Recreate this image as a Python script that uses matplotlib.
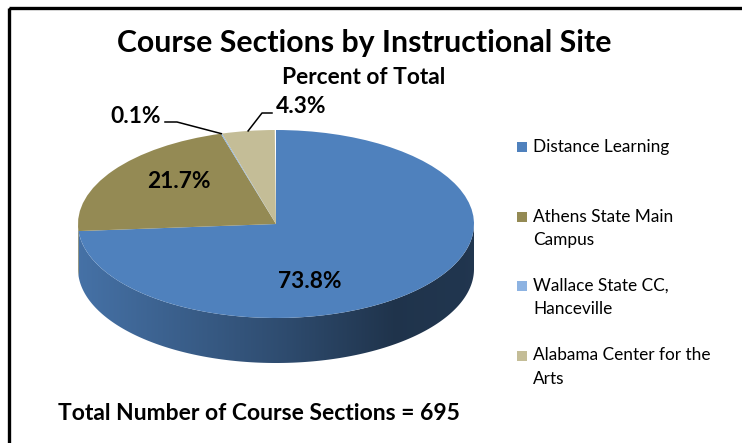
import numpy as np
import matplotlib
matplotlib.use('Agg')
import matplotlib.pyplot as plt
from matplotlib.patches import Wedge, Rectangle, Polygon
from matplotlib.transforms import Affine2D

# data
sites = ['Distance Learning', 'Athens State Main\nCampus',
         'Wallace State CC,\nHanceville', 'Alabama Center for the\nArts']
percents = [73.8, 21.7, 0.1, 4.3]
total_sections = 695
colors = ['#4f81bd', '#948a54', '#8db3e2', '#c4bd97']

plt.rcParams['font.family'] = ['Lato', 'DejaVu Sans']

fig = plt.figure(figsize=(7.42, 4.43), dpi=100)
ax = fig.add_axes([0, 0, 1, 1])
ax.set_xlim(0, 742)
ax.set_ylim(443, 0)   # pixel-like coords, y going down
ax.axis('off')
rend = fig.canvas.get_renderer()


def fit(t, w):
    # scale font so the text gets the wanted width
    bb = t.get_window_extent(rend)
    t.set_fontsize(t.get_fontsize() * w / bb.width)
    return t


# pie geometry (ellipse in screen pixels)
cx, cy = 276, 224
rx, ry = 198, 94
depth = 45
tr = Affine2D().scale(rx, -ry).translate(cx, cy) + ax.transData

# slice angles, clockwise from 12 o'clock
angles = []
start = 90.0
for p in percents:
    end = start - 360.0 * p / 100.0
    angles.append((end, start))
    start = end

# side wall: gradient image clipped to the front part of each slice
u = np.linspace(0, 1, 400)
fac = np.interp(u, [0, 0.5, 0.8, 1.0], [0.88, 0.6, 0.4, 0.42])
for (a1, a2), c in zip(angles, colors):
    ts = np.radians(np.linspace(a1, a2, 600))
    ts = ts[np.sin(ts) < 0]
    if len(ts) < 2:
        continue
    xs = cx + rx * np.cos(ts)
    ys = cy - ry * np.sin(ts)
    pts = np.column_stack([np.r_[xs, xs[::-1]], np.r_[ys, ys[::-1] + depth]])
    poly = Polygon(pts, closed=True, fc='none', ec='none')
    ax.add_patch(poly)
    rgb = np.array(matplotlib.colors.to_rgb(c))
    img = (fac[:, None] * rgb[None, :])[None, :, :]
    im = ax.imshow(img, extent=[cx - rx, cx + rx, cy + ry + depth, cy - ry],
                   aspect='auto', interpolation='bilinear', zorder=1)
    im.set_clip_path(poly)

ax.set_xlim(0, 742)
ax.set_ylim(443, 0)

# top face
for (a1, a2), c in zip(angles, colors):
    ax.add_patch(Wedge((0, 0), 1, a1, a2, fc=c, ec='none', transform=tr,
                       zorder=2))

# data labels
lab_kw = dict(fontweight='bold', color='black', ha='center', va='center',
              zorder=4)
big = fit(ax.text(310, 281, f'{percents[0]}%', fontsize=16, **lab_kw), 64)
fs = big.get_fontsize()
ax.text(179, 181, f'{percents[1]}%', fontsize=fs, **lab_kw)
ax.text(136, 116, f'{percents[2]}%', fontsize=fs, **lab_kw)
ax.text(301, 106, f'{percents[3]}%', fontsize=fs, **lab_kw)

# leader lines to the small slices
for i, pts in [(2, [(165, 122), (177, 122)]), (3, [(272, 113), (262, 113)])]:
    tm = np.radians(sum(angles[i]) / 2)
    ex, ey = cx + rx * np.cos(tm), cy - ry * np.sin(tm)
    xs = [p[0] for p in pts] + [ex]
    ys = [p[1] for p in pts] + [ey]
    ax.plot(xs, ys, color='black', lw=1.1, zorder=3)

# titles
fit(ax.text(364, 43, 'Course Sections by Instructional Site', fontsize=20,
            fontweight='bold', ha='center', va='center'), 493)
fit(ax.text(364, 77, 'Percent of Total', fontsize=14,
            fontweight='bold', ha='center', va='center'), 165)
fit(ax.text(58, 414, f'Total Number of Course Sections = {total_sections}',
            fontsize=14, fontweight='bold', ha='left', va='center'), 405)

# legend
leg0, leg_step, line_h = 147, 69.5, 23
lt = fit(ax.text(533, leg0, sites[0].split('\n')[0], fontsize=11,
                 ha='left', va='center'), 136)
lfs = lt.get_fontsize()
lt.remove()
for i, (s, c) in enumerate(zip(sites, colors)):
    y = leg0 + i * leg_step
    ax.add_patch(Rectangle((517, y - 5), 10, 10, fc=c, ec='none'))
    for j, line in enumerate(s.split('\n')):
        ax.text(533, y + j * line_h, line, fontsize=lfs, ha='left',
                va='center', color='black')

# chart frame
ax.add_patch(Rectangle((8.5, 7.5), 800, 500, fill=False, ec='black', lw=2.4,
                       zorder=5))

fig.savefig('out.png', dpi=100)
